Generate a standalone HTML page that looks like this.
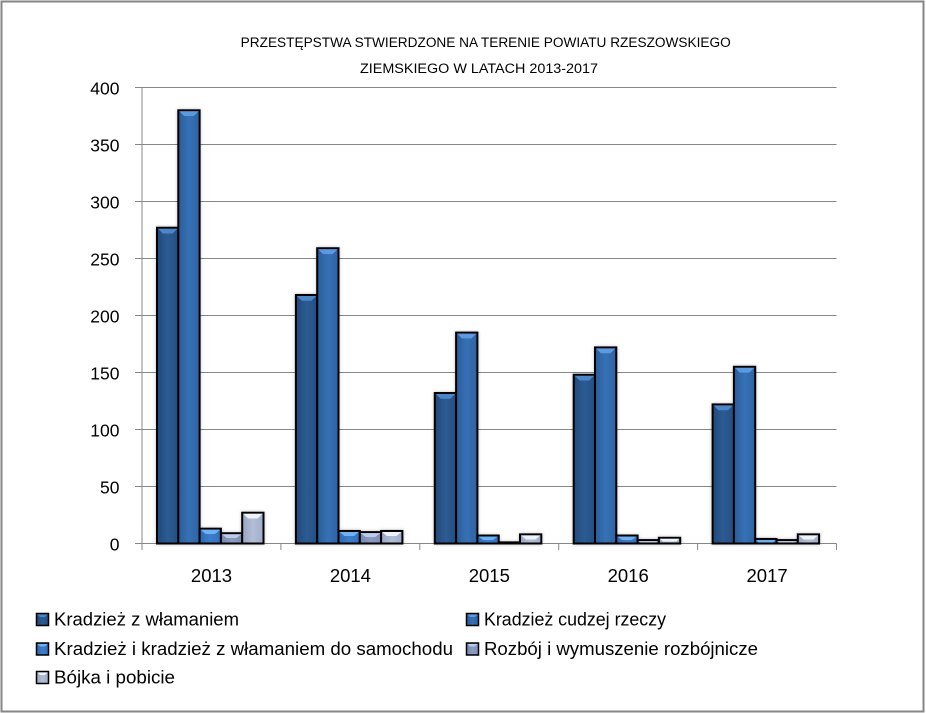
<!DOCTYPE html>
<html>
<head>
<meta charset="utf-8">
<style>
html,body{margin:0;padding:0;background:#fff;}
svg{display:block;}
text{font-family:"Liberation Sans",Arial,sans-serif;fill:#000;}
</style>
</head>
<body>
<svg width="926" height="713" viewBox="0 0 926 713" xmlns="http://www.w3.org/2000/svg">
<defs>
<linearGradient id="g1" x1="0" y1="0" x2="1" y2="0"><stop offset="0" stop-color="#22497a"/><stop offset="0.5" stop-color="#2c5b93"/><stop offset="1" stop-color="#264f82"/></linearGradient>
<linearGradient id="g2" x1="0" y1="0" x2="1" y2="0"><stop offset="0" stop-color="#2a5c98"/><stop offset="0.5" stop-color="#3671b6"/><stop offset="1" stop-color="#2e62a2"/></linearGradient>
<linearGradient id="g3" x1="0" y1="0" x2="1" y2="0"><stop offset="0" stop-color="#2f68b0"/><stop offset="0.5" stop-color="#3c7ecc"/><stop offset="1" stop-color="#336fb8"/></linearGradient>
<linearGradient id="g4" x1="0" y1="0" x2="1" y2="0"><stop offset="0" stop-color="#7486ad"/><stop offset="0.5" stop-color="#8b9dc3"/><stop offset="1" stop-color="#7c8eb5"/></linearGradient>
<linearGradient id="g5" x1="0" y1="0" x2="1" y2="0"><stop offset="0" stop-color="#98a5c2"/><stop offset="0.5" stop-color="#b2bed6"/><stop offset="1" stop-color="#a0adc8"/></linearGradient>
<filter id="sh" x="-20%" y="-5%" width="140%" height="110%"><feDropShadow dx="0" dy="0" stdDeviation="1.5" flood-color="#000" flood-opacity="0.25"/></filter>
</defs>

<!-- outer border -->
<rect x="1.5" y="1.5" width="922" height="710" fill="#fff" stroke="#868686" stroke-width="2"/>

<!-- title -->
<text x="240.7" y="47" font-size="13.4" textLength="490" lengthAdjust="spacingAndGlyphs">PRZESTĘPSTWA STWIERDZONE NA TERENIE POWIATU  RZESZOWSKIEGO</text>
<text x="360" y="73" font-size="13.4" textLength="238" lengthAdjust="spacingAndGlyphs">ZIEMSKIEGO W  LATACH 2013-2017</text>

<!-- gridlines -->
<g stroke="#878787" stroke-width="1">
<line x1="142" y1="87.5" x2="836.5" y2="87.5"/>
<line x1="142" y1="144.5" x2="836.5" y2="144.5"/>
<line x1="142" y1="201.5" x2="836.5" y2="201.5"/>
<line x1="142" y1="258.5" x2="836.5" y2="258.5"/>
<line x1="142" y1="315.5" x2="836.5" y2="315.5"/>
<line x1="142" y1="372.5" x2="836.5" y2="372.5"/>
<line x1="142" y1="429.5" x2="836.5" y2="429.5"/>
<line x1="142" y1="486.5" x2="836.5" y2="486.5"/>
<!-- y axis -->
<line x1="142" y1="87.5" x2="142" y2="543.5"/>
<line x1="135" y1="87.5" x2="142" y2="87.5"/>
<line x1="135" y1="144.5" x2="142" y2="144.5"/>
<line x1="135" y1="201.5" x2="142" y2="201.5"/>
<line x1="135" y1="258.5" x2="142" y2="258.5"/>
<line x1="135" y1="315.5" x2="142" y2="315.5"/>
<line x1="135" y1="372.5" x2="142" y2="372.5"/>
<line x1="135" y1="429.5" x2="142" y2="429.5"/>
<line x1="135" y1="486.5" x2="142" y2="486.5"/>
<line x1="135" y1="543.5" x2="142" y2="543.5"/>
<!-- x axis -->
<line x1="142" y1="543.5" x2="836.5" y2="543.5"/>
<line x1="142" y1="543.5" x2="142" y2="550"/>
<line x1="280.9" y1="543.5" x2="280.9" y2="550"/>
<line x1="419.8" y1="543.5" x2="419.8" y2="550"/>
<line x1="558.7" y1="543.5" x2="558.7" y2="550"/>
<line x1="697.6" y1="543.5" x2="697.6" y2="550"/>
<line x1="836.5" y1="543.5" x2="836.5" y2="550"/>
</g>

<!-- y labels -->
<g font-size="17.5" text-anchor="end">
<text x="119.5" y="94.5">400</text>
<text x="119.5" y="151.5">350</text>
<text x="119.5" y="208.5">300</text>
<text x="119.5" y="265.5">250</text>
<text x="119.5" y="322.5">200</text>
<text x="119.5" y="379.5">150</text>
<text x="119.5" y="436.5">100</text>
<text x="119.5" y="493.5">50</text>
<text x="119.5" y="550.5">0</text>
</g>

<!-- x labels -->
<g font-size="18.5" text-anchor="middle">
<text x="211.5" y="582">2013</text>
<text x="350.4" y="582">2014</text>
<text x="489.3" y="582">2015</text>
<text x="628.2" y="582">2016</text>
<text x="767.1" y="582">2017</text>
</g>

<!-- bars -->
<g stroke="#000" stroke-width="2" filter="url(#sh)">
<!-- 2013 -->
<g transform="translate(142,0)">
<rect x="15" y="227.72" width="21.3" height="315.78" fill="url(#g1)"/>
<rect x="36.3" y="110.3" width="21.3" height="433.2" fill="url(#g2)"/>
<rect x="57.6" y="528.68" width="21.3" height="14.82" fill="url(#g3)"/>
<rect x="78.9" y="533.24" width="21.3" height="10.26" fill="url(#g4)"/>
<rect x="100.2" y="512.72" width="21.3" height="30.78" fill="url(#g5)"/>
</g>
<!-- 2014 -->
<g transform="translate(280.9,0)">
<rect x="15" y="294.98" width="21.3" height="248.52" fill="url(#g1)"/>
<rect x="36.3" y="248.24" width="21.3" height="295.26" fill="url(#g2)"/>
<rect x="57.6" y="530.96" width="21.3" height="12.54" fill="url(#g3)"/>
<rect x="78.9" y="532.1" width="21.3" height="11.4" fill="url(#g4)"/>
<rect x="100.2" y="530.96" width="21.3" height="12.54" fill="url(#g5)"/>
</g>
<!-- 2015 -->
<g transform="translate(419.8,0)">
<rect x="15" y="393.02" width="21.3" height="150.48" fill="url(#g1)"/>
<rect x="36.3" y="332.6" width="21.3" height="210.9" fill="url(#g2)"/>
<rect x="57.6" y="535.52" width="21.3" height="7.98" fill="url(#g3)"/>
<rect x="78.9" y="542.36" width="21.3" height="1.14" fill="url(#g4)"/>
<rect x="100.2" y="534.38" width="21.3" height="9.12" fill="url(#g5)"/>
</g>
<!-- 2016 -->
<g transform="translate(558.7,0)">
<rect x="15" y="374.78" width="21.3" height="168.72" fill="url(#g1)"/>
<rect x="36.3" y="347.42" width="21.3" height="196.08" fill="url(#g2)"/>
<rect x="57.6" y="535.52" width="21.3" height="7.98" fill="url(#g3)"/>
<rect x="78.9" y="540.08" width="21.3" height="3.42" fill="url(#g4)"/>
<rect x="100.2" y="537.8" width="21.3" height="5.7" fill="url(#g5)"/>
</g>
<!-- 2017 -->
<g transform="translate(697.6,0)">
<rect x="15" y="404.42" width="21.3" height="139.08" fill="url(#g1)"/>
<rect x="36.3" y="366.8" width="21.3" height="176.7" fill="url(#g2)"/>
<rect x="57.6" y="538.94" width="21.3" height="4.56" fill="url(#g3)"/>
<rect x="78.9" y="540.08" width="21.3" height="3.42" fill="url(#g4)"/>
<rect x="100.2" y="534.38" width="21.3" height="9.12" fill="url(#g5)"/>
</g>
</g>

<!-- bevels -->
<g stroke="none">
<g transform="translate(142,0)">
<polygon points="16,228.72 35.3,228.72 30.5,233.5 20.8,233.5" fill="#4d86c8"/>
<polygon points="37.3,111.3 56.6,111.3 51.8,116 42.1,116" fill="#5b9ae0"/>
<polygon points="58.6,529.68 77.9,529.68 73.1,534 63.4,534" fill="#6fb0f2"/>
<polygon points="79.9,534.24 99.2,534.24 94.4,538 84.7,538" fill="#bccbe8"/>
<polygon points="101.2,513.72 120.5,513.72 115.7,518.5 106,518.5" fill="#eef2f9"/>
</g>
<g transform="translate(280.9,0)">
<polygon points="16,295.98 35.3,295.98 30.5,300.7 20.8,300.7" fill="#4d86c8"/>
<polygon points="37.3,249.24 56.6,249.24 51.8,254 42.1,254" fill="#5b9ae0"/>
<polygon points="58.6,531.96 77.9,531.96 73.1,536 63.4,536" fill="#6fb0f2"/>
<polygon points="79.9,533.1 99.2,533.1 94.4,537 84.7,537" fill="#bccbe8"/>
<polygon points="101.2,531.96 120.5,531.96 115.7,536 106,536" fill="#eef2f9"/>
</g>
<g transform="translate(419.8,0)">
<polygon points="16,394.02 35.3,394.02 30.5,398.8 20.8,398.8" fill="#4d86c8"/>
<polygon points="37.3,333.6 56.6,333.6 51.8,338.4 42.1,338.4" fill="#5b9ae0"/>
<polygon points="58.6,536.52 77.9,536.52 73.1,540 63.4,540" fill="#6fb0f2"/>
<polygon points="101.2,535.38 120.5,535.38 115.7,539.5 106,539.5" fill="#eef2f9"/>
</g>
<g transform="translate(558.7,0)">
<polygon points="16,375.78 35.3,375.78 30.5,380.5 20.8,380.5" fill="#4d86c8"/>
<polygon points="37.3,348.42 56.6,348.42 51.8,353.2 42.1,353.2" fill="#5b9ae0"/>
<polygon points="58.6,536.52 77.9,536.52 73.1,540 63.4,540" fill="#6fb0f2"/>
<polygon points="79.9,541.08 99.2,541.08 97,542.5 82,542.5" fill="#bccbe8"/>
<polygon points="101.2,538.8 120.5,538.8 117.5,541.5 104.2,541.5" fill="#eef2f9"/>
</g>
<g transform="translate(697.6,0)">
<polygon points="16,405.42 35.3,405.42 30.5,410.2 20.8,410.2" fill="#4d86c8"/>
<polygon points="37.3,367.8 56.6,367.8 51.8,372.6 42.1,372.6" fill="#5b9ae0"/>
<polygon points="58.6,539.94 77.9,539.94 75.5,542.5 61,542.5" fill="#6fb0f2"/>
<polygon points="79.9,541.08 99.2,541.08 97,542.5 82,542.5" fill="#bccbe8"/>
<polygon points="101.2,535.38 120.5,535.38 115.7,539.5 106,539.5" fill="#eef2f9"/>
</g>
</g>

<!-- legend -->
<g stroke="#000" stroke-width="1.5">
<rect x="36.5" y="613.5" width="12" height="12" fill="url(#g1)"/>
<rect x="466.5" y="613.5" width="12" height="12" fill="url(#g2)"/>
<rect x="36.5" y="643" width="12" height="12" fill="url(#g3)"/>
<rect x="466.5" y="643" width="12" height="12" fill="url(#g4)"/>
<rect x="36.5" y="671.5" width="12" height="12" fill="url(#g5)"/>
</g>
<g stroke="none">
<polygon points="37.5,614.5 47.5,614.5 45,617 40,617" fill="#4d86c8"/>
<polygon points="467.5,614.5 477.5,614.5 475,617 470,617" fill="#5b9ae0"/>
<polygon points="37.5,644 47.5,644 45,646.5 40,646.5" fill="#6fb0f2"/>
<polygon points="467.5,644 477.5,644 475,646.5 470,646.5" fill="#bccbe8"/>
<polygon points="37.5,672.5 47.5,672.5 45,675 40,675" fill="#eef2f9"/>
</g>
<g font-size="18">
<text x="54" y="625.5" textLength="185" lengthAdjust="spacingAndGlyphs">Kradzież z włamaniem</text>
<text x="484" y="625.5" textLength="182" lengthAdjust="spacingAndGlyphs">Kradzież cudzej rzeczy</text>
<text x="54" y="655" textLength="399" lengthAdjust="spacingAndGlyphs">Kradzież i kradzież z włamaniem do samochodu</text>
<text x="484" y="655" textLength="274" lengthAdjust="spacingAndGlyphs">Rozbój i wymuszenie rozbójnicze</text>
<text x="54" y="683.5" textLength="121" lengthAdjust="spacingAndGlyphs">Bójka i pobicie</text>
</g>
</svg>
</body>
</html>
